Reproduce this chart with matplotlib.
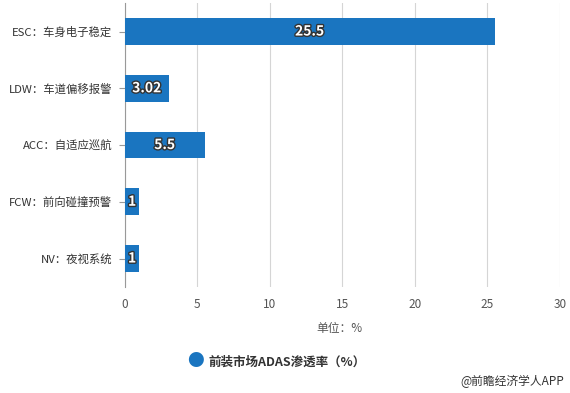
import matplotlib.pyplot as plt
import matplotlib.patheffects as pe

plt.rcParams['font.family'] = ['Noto Sans CJK SC', 'DejaVu Sans']

categories = ["ESC：车身电子稳定", "LDW：车道偏移报警", "ACC：自适应巡航", "FCW：前向碰撞预警", "NV：夜视系统"]
values = [25.5, 3.02, 5.5, 1, 1]
value_labels = ["25.5", "3.02", "5.5", "1", "1"]
xticks = [0, 5, 10, 15, 20, 25, 30]
series_name = "前装市场ADAS渗透率（%）"

bar_color = "#1a75c0"

fig = plt.figure(figsize=(5.7, 3.93), dpi=100)
ax = fig.add_axes([0.219, 0.270, 0.763, 0.722])

pos = list(range(len(categories)))
ax.barh(pos, values, height=0.47, color=bar_color, zorder=3)
ax.set_ylim(len(categories) - 0.5, -0.5)
ax.set_xlim(0, 30)

ax.set_yticks(pos)
ax.set_yticklabels(categories, fontsize=8.2, color="#333333")
ax.set_xticks(xticks)
ax.set_xticklabels([str(t) for t in xticks], fontsize=8.5, color="#555555")
ax.tick_params(axis='x', length=0, pad=8)
ax.tick_params(axis='y', length=4, color="#999999", pad=5)
ax.grid(axis='x', color="#d5d5d5", linewidth=0.8, zorder=0)

for s in ["top", "right", "bottom"]:
    ax.spines[s].set_visible(False)
ax.spines["left"].set_color("#999999")

for p, v, lab in zip(pos, values, value_labels):
    ax.text(v / 2, p, lab, ha="center", va="center", color="white", fontsize=10,
            fontweight="bold", zorder=4,
            path_effects=[pe.withStroke(linewidth=2, foreground="#333333")])

fig.text(0.596, 0.165, "单位：%", ha="center", va="center", fontsize=8.5, color="#555555")

fig.text(0.342, 0.079, "●", ha="center", va="center", fontsize=12, color=bar_color)
fig.text(0.365, 0.079, series_name, ha="left", va="center", fontsize=9,
         fontweight="bold", color="#333333")

fig.text(0.99, 0.03, "@前瞻经济学人APP", ha="right", va="center", fontsize=8.5, color="#333333")

fig.savefig("out.png", dpi=100)
